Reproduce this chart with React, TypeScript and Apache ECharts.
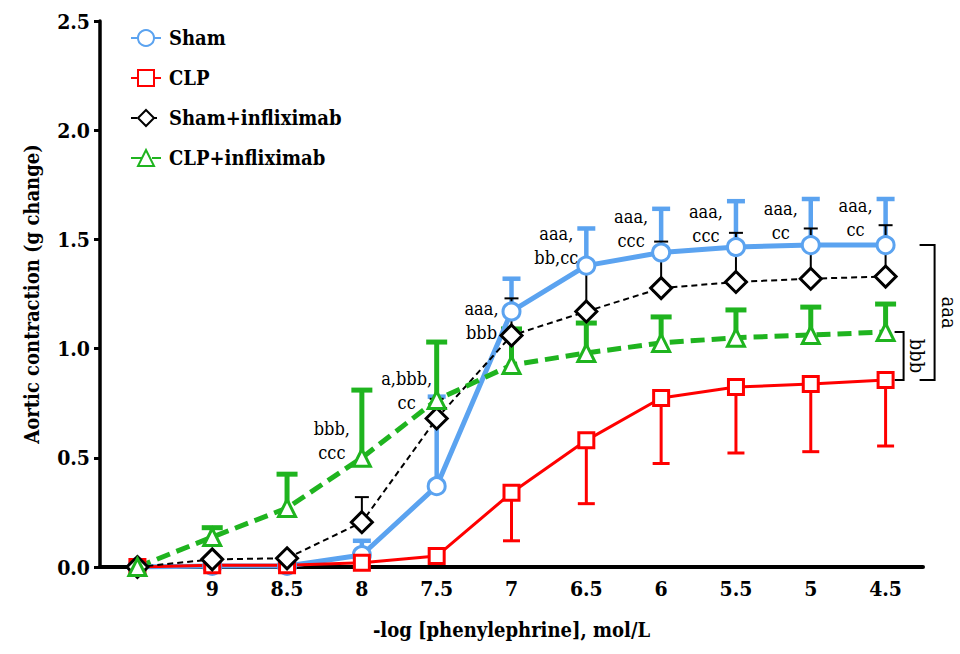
import React, { useEffect, useRef } from 'react';
import * as echarts from 'echarts';

const categories = ['', '9', '8.5', '8', '7.5', '7', '6.5', '6', '5.5', '5', '4.5'];
const yTicks = [0, 0.5, 1.0, 1.5, 2.0, 2.5];

const shamMean = [0, 0.005, 0.005, 0.055, 0.37, 1.17, 1.38, 1.44, 1.465, 1.474, 1.474];
const shamSem = [0, 0, 0, 0.065, 0.41, 0.15, 0.17, 0.2, 0.21, 0.211, 0.211];

const clpMean = [0, 0.008, 0.008, 0.02, 0.05, 0.34, 0.58, 0.774, 0.824, 0.838, 0.856];
const clpSem = [0, 0, 0, 0, 0, 0.22, 0.29, 0.3, 0.302, 0.31, 0.302];

const shamInfMean = [0, 0.035, 0.04, 0.205, 0.68, 1.06, 1.17, 1.277, 1.305, 1.32, 1.33];
const shamInfSem = [0, 0, 0, 0.115, 0.09, 0.17, 0.2, 0.213, 0.225, 0.23, 0.235];

const clpInfMean = [0, 0.137, 0.27, 0.5, 0.765, 0.925, 0.98, 1.026, 1.05, 1.062, 1.076];
const clpInfSem = [0, 0.043, 0.155, 0.31, 0.265, 0.165, 0.137, 0.119, 0.127, 0.128, 0.128];

const annotationCats = [3, 4, 5, 6, 7, 8, 9, 10];
const annotationY = [0.58, 0.81, 1.13, 1.47, 1.55, 1.575, 1.585, 1.6];
const annotationText = ['bbb,\nccc', 'a,bbb,\ncc', 'aaa,\nbbb', 'aaa,\nbb,cc', 'aaa,\nccc', 'aaa,\nccc', 'aaa,\ncc', 'aaa,\ncc'];

const bracketLabels = ['aaa', 'bbb'];

const FONT = 'DejaVu Serif Condensed';
const BLUE = '#5ba3f0';
const RED = '#ff0000';
const BLACK = '#000000';
const GREEN = '#1fb41f';

function errSeries(mean: number[], sem: number[], dir: number, color: string, width: number, cap: number) {
  const data = mean
    .map((m, i) => [i, m, dir > 0 ? m + sem[i] : m - sem[i]])
    .filter((_, i) => sem[i] > 0);
  return {
    type: 'custom',
    silent: true,
    data,
    encode: { x: 0, y: [1, 2] },
    renderItem: (params: any, api: any) => {
      const p0 = api.coord([api.value(0), api.value(1)]);
      const p1 = api.coord([api.value(0), api.value(2)]);
      return {
        type: 'group',
        children: [
          { type: 'line', shape: { x1: p0[0], y1: p0[1], x2: p1[0], y2: p1[1] }, style: { stroke: color, lineWidth: width } },
          { type: 'line', shape: { x1: p1[0] - cap / 2, y1: p1[1], x2: p1[0] + cap / 2, y2: p1[1] }, style: { stroke: color, lineWidth: width } },
        ],
      };
    },
  };
}

export default function App() {
  const ref = useRef<HTMLDivElement>(null);
  useEffect(() => {
    if (!ref.current) return;
    const chart = echarts.init(ref.current, null, { renderer: 'svg' });
    const last = categories.length - 1;
    const bracketData = [
      [last, shamMean[last], clpMean[last]],
      [last, clpInfMean[last], clpMean[last]],
    ];
    const bracketOffsets = [
      { line: 49, tick: 34, text: 63 },
      { line: 18, tick: 9, text: 31 },
    ];
    chart.setOption({
      animation: false,
      backgroundColor: '#ffffff',
      textStyle: { fontFamily: FONT },
      grid: { left: 100, right: 37, top: 21, bottom: 87, containLabel: false },
      legend: {
        data: ['Sham', 'CLP', 'Sham+infliximab', 'CLP+infliximab'],
        orient: 'vertical',
        left: 125,
        top: 23,
        itemWidth: 30,
        itemHeight: 20,
        itemGap: 20,
        textStyle: { fontFamily: FONT, fontWeight: 'bold', fontSize: 20, color: '#000', padding: [0, 0, 0, 3] },
      },
      xAxis: {
        type: 'category',
        data: categories,
        boundaryGap: true,
        name: '-log [phenylephrine], mol/L',
        nameLocation: 'middle',
        nameGap: 53,
        nameTextStyle: { fontFamily: FONT, fontWeight: 'bold', fontSize: 20, color: '#000' },
        axisLine: { lineStyle: { color: '#000', width: 4 } },
        axisTick: { alignWithLabel: true, interval: (i: number) => i !== 0, length: 6, lineStyle: { color: '#000', width: 3 } },
        axisLabel: { interval: 0, margin: 11, fontFamily: FONT, fontWeight: 'bold', fontSize: 21, color: '#000' },
        splitLine: { show: false },
      },
      yAxis: {
        type: 'value',
        min: yTicks[0],
        max: yTicks[yTicks.length - 1],
        interval: 0.5,
        name: 'Aortic contraction (g change)',
        nameLocation: 'middle',
        nameGap: 58,
        nameTextStyle: { fontFamily: FONT, fontWeight: 'bold', fontSize: 20, color: '#000' },
        axisLine: { show: true, lineStyle: { color: '#000', width: 3.5 } },
        axisTick: { show: true, length: 6, lineStyle: { color: '#000', width: 3 } },
        axisLabel: { margin: 10, fontFamily: FONT, fontWeight: 'bold', fontSize: 21, color: '#000', formatter: (v: number) => v.toFixed(1) },
        splitLine: { show: false },
      },
      series: [
        errSeries(shamMean, shamSem, 1, BLUE, 4.5, 18),
        {
          name: 'Sham', type: 'line', data: shamMean,
          symbol: 'circle', symbolSize: 17,
          lineStyle: { color: BLUE, width: 5 },
          itemStyle: { color: '#fff', borderColor: BLUE, borderWidth: 3 },
        },
        errSeries(clpMean, clpSem, -1, RED, 3, 17),
        {
          name: 'CLP', type: 'line', data: clpMean,
          symbol: 'rect', symbolSize: 15,
          lineStyle: { color: RED, width: 3 },
          itemStyle: { color: '#fff', borderColor: RED, borderWidth: 3 },
        },
        errSeries(shamInfMean, shamInfSem, 1, BLACK, 2, 14),
        {
          name: 'Sham+infliximab', type: 'line', data: shamInfMean,
          symbol: 'diamond', symbolSize: 21,
          lineStyle: { color: BLACK, width: 2, type: [6, 4] },
          itemStyle: { color: '#fff', borderColor: BLACK, borderWidth: 3 },
        },
        errSeries(clpInfMean, clpInfSem, 1, GREEN, 5, 21),
        {
          name: 'CLP+infliximab', type: 'line', data: clpInfMean,
          symbol: 'triangle', symbolSize: 17,
          lineStyle: { color: GREEN, width: 5, type: [14, 7] },
          itemStyle: { color: '#fff', borderColor: GREEN, borderWidth: 3 },
        },
        {
          type: 'custom',
          silent: true,
          data: annotationCats.map((c, i) => [c, annotationY[i]]),
          encode: { x: 0, y: 1 },
          renderItem: (params: any, api: any) => {
            const p = api.coord([api.value(0), api.value(1)]);
            return {
              type: 'text',
              x: p[0] - 30,
              y: p[1],
              style: {
                text: annotationText[params.dataIndex],
                fontFamily: FONT,
                fontSize: 18,
                fill: '#000',
                align: 'center',
                verticalAlign: 'middle',
                lineHeight: 24,
              },
            };
          },
        },
        {
          type: 'custom',
          silent: true,
          clip: false,
          data: bracketData,
          encode: { x: 0, y: [1, 2] },
          renderItem: (params: any, api: any) => {
            const top = api.coord([api.value(0), api.value(1)]);
            const bot = api.coord([api.value(0), api.value(2)]);
            const o = bracketOffsets[params.dataIndex];
            const x = top[0];
            return {
              type: 'group',
              children: [
                {
                  type: 'polyline',
                  shape: { points: [[x + o.tick, top[1]], [x + o.line, top[1]], [x + o.line, bot[1]], [x + o.tick, bot[1]]] },
                  style: { stroke: '#000', lineWidth: 2, fill: null },
                },
                {
                  type: 'text',
                  x: x + o.text,
                  y: (top[1] + bot[1]) / 2,
                  rotation: -Math.PI / 2,
                  style: {
                    text: bracketLabels[params.dataIndex],
                    fontFamily: FONT,
                    fontSize: 20,
                    fill: '#000',
                    align: 'center',
                    verticalAlign: 'middle',
                  },
                },
              ],
            };
          },
        },
      ],
    });
    return () => chart.dispose();
  }, []);
  return <div ref={ref} style={{ position: 'absolute', left: 0, top: 0, width: 960, height: 654 }} />;
}
